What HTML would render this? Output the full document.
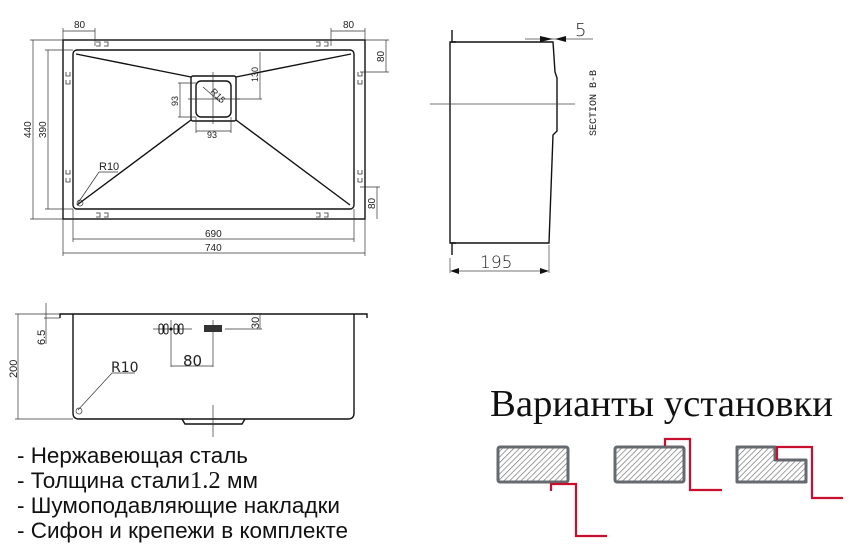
<!DOCTYPE html>
<html><head><meta charset="utf-8"><style>
html,body{margin:0;padding:0;background:#fff;}
svg{display:block;}
</style></head><body>
<svg width="865" height="551" viewBox="0 0 865 551" xmlns="http://www.w3.org/2000/svg" font-family="'Liberation Sans','DejaVu Sans',sans-serif">
<defs>
<pattern id="h" width="4" height="4" patternUnits="userSpaceOnUse" patternTransform="rotate(45)">
<rect width="4" height="4" fill="#fff"/><line x1="0" y1="0" x2="0" y2="4" stroke="#777" stroke-width="1.4"/>
</pattern>
</defs>
<!-- TOP VIEW -->
<g fill="none" stroke="#111" stroke-width="1.4">
<rect x="63" y="40" width="302" height="179"/>
<rect x="73" y="50" width="281" height="159" rx="4"/>
<rect x="191" y="76" width="45" height="45" rx="2"/>
<rect x="196" y="81" width="35" height="36" rx="5"/>
<line x1="76" y1="54" x2="191" y2="77"/>
<line x1="351" y1="54" x2="236" y2="77"/>
<line x1="77" y1="205" x2="191" y2="120"/>
<line x1="350" y1="205" x2="236" y2="120"/>
</g>
<g fill="none" stroke="#333" stroke-width="0.7">
<line x1="33" y1="40" x2="33" y2="219"/><line x1="30" y1="40" x2="63" y2="40"/><line x1="30" y1="219" x2="63" y2="219"/>
<line x1="48" y1="50" x2="48" y2="209"/><line x1="45" y1="50" x2="73" y2="50"/><line x1="45" y1="209" x2="73" y2="209"/>
<line x1="73" y1="239" x2="354" y2="239"/><line x1="73" y1="209" x2="73" y2="242"/><line x1="354" y1="209" x2="354" y2="242"/>
<line x1="63" y1="253" x2="365" y2="253"/><line x1="63" y1="219" x2="63" y2="256"/><line x1="365" y1="219" x2="365" y2="256"/>
<line x1="63" y1="31" x2="95" y2="31"/><line x1="63" y1="28" x2="63" y2="40"/><line x1="95" y1="28" x2="95" y2="46"/>
<line x1="331" y1="31" x2="365" y2="31"/><line x1="331" y1="28" x2="331" y2="46"/><line x1="365" y1="28" x2="365" y2="40"/>
<line x1="386" y1="40" x2="386" y2="72"/><line x1="365" y1="40" x2="389" y2="40"/><line x1="360" y1="72" x2="389" y2="72"/>
<line x1="377" y1="187" x2="377" y2="219"/><line x1="360" y1="187" x2="380" y2="187"/>
<line x1="180" y1="83" x2="180" y2="117"/><line x1="178" y1="83" x2="196" y2="83"/><line x1="178" y1="117" x2="196" y2="117"/>
<line x1="196" y1="131" x2="231" y2="131"/><line x1="196" y1="117" x2="196" y2="133"/><line x1="231" y1="117" x2="231" y2="133"/>
<line x1="260" y1="52" x2="260" y2="99"/><line x1="236" y1="99" x2="262" y2="99"/>
<line x1="188" y1="99" x2="240" y2="99"/><line x1="213" y1="72" x2="213" y2="124"/>
<line x1="203" y1="87" x2="220" y2="102"/>
<line x1="78" y1="203" x2="99" y2="172"/><line x1="99" y1="172" x2="118" y2="172"/>
<circle cx="80" cy="203" r="3"/>
</g>
<g stroke="#333" stroke-width="0.8" fill="none">
<path d="M96 42h4v4h-4M104 42h4v4h-4"/><path d="M316 42h4v4h-4M324 42h4v4h-4"/>
<path d="M96 213h4v4h-4M104 213h4v4h-4"/><path d="M316 213h4v4h-4M324 213h4v4h-4"/>
<path d="M66 72v4h4v-4M66 80v4h4v-4"/><path d="M66 170v4h4v-4M66 178v4h4v-4"/>
<path d="M358 72v4h4v-4M358 80v4h4v-4"/><path d="M358 170v4h4v-4M358 178v4h4v-4"/>
</g>
<g font-family="'Liberation Sans Narrow','Liberation Sans',sans-serif" font-size="10" fill="#222">
<text x="74" y="28">80</text><text x="343" y="28">80</text>
<text x="205" y="237">690</text><text x="205" y="251">740</text>
<text x="207" y="138" font-size="9">93</text>
<text transform="translate(31,138) rotate(-90)">440</text>
<text transform="translate(46,138) rotate(-90)">390</text>
<text transform="translate(384,62) rotate(-90)">80</text>
<text transform="translate(375,209) rotate(-90)">80</text>
<text transform="translate(258,82) rotate(-90)" font-size="9">130</text>
<text transform="translate(178,106) rotate(-90)" font-size="9">93</text>
<text transform="translate(210,92) rotate(45)" font-size="9">R15</text>
<text x="99" y="170" font-size="11">R10</text>
</g>
<!-- SIDE VIEW -->
<g fill="none" stroke="#111" stroke-width="1.4">
<path d="M450 42L553 42L555 72L557 78L557 131L553 135L549 243L450 243Z"/>
<path d="M452 30v12h4M452 255v-12h4"/>
</g>
<g fill="none" stroke="#444" stroke-width="0.7">
<line x1="430" y1="104" x2="575" y2="104"/>
<line x1="525" y1="39" x2="593" y2="39"/>
<line x1="450" y1="258" x2="450" y2="273"/><line x1="549" y1="245" x2="549" y2="273"/>
<line x1="452" y1="271" x2="547" y2="271"/>
</g>
<path d="M540 36L553 39L540 42Z M566 36L555 39L566 42Z M450 271l9-3v6Z M549 271l-9-3v6Z" fill="#111"/>
<text x="575" y="36" font-size="18" fill="#222" font-family="'DejaVu Sans',sans-serif" font-weight="300">5</text>
<text x="480" y="268" font-size="17" fill="#222" font-family="'DejaVu Sans',sans-serif" font-weight="300">195</text>
<text transform="translate(596,136) rotate(-90)" font-size="10" fill="#222" font-family="'Liberation Mono',monospace">SECTION B-B</text>
<!-- FRONT VIEW -->
<g fill="none" stroke="#111" stroke-width="1.4">
<path d="M60 318V314H367V318"/>
<path d="M73 314V413Q73 419 79 419H348Q354 419 354 413V314"/>
<path d="M182 419L185 424H242L245 419"/>
</g>
<g fill="none" stroke="#333" stroke-width="0.7">
<line x1="18" y1="314" x2="18" y2="419"/><line x1="15" y1="314" x2="60" y2="314"/><line x1="15" y1="419" x2="73" y2="419"/>
<line x1="46" y1="303" x2="46" y2="344"/><line x1="44" y1="318" x2="60" y2="318"/>
<line x1="153" y1="329" x2="192" y2="329"/><line x1="171" y1="320" x2="171" y2="367"/>
<line x1="213" y1="320" x2="213" y2="367"/><line x1="171" y1="366" x2="213" y2="366"/>
<line x1="225" y1="329" x2="262" y2="329"/><line x1="260" y1="314" x2="260" y2="329"/>
<line x1="213" y1="405" x2="213" y2="437"/>
<line x1="78" y1="410" x2="112" y2="373"/><line x1="112" y1="373" x2="135" y2="373"/>
<circle cx="79" cy="411" r="3"/>
</g>
<g fill="none" stroke="#111" stroke-width="1">
<rect x="159" y="324" width="4" height="10" rx="2"/><rect x="164" y="324" width="4" height="10" rx="2"/>
<rect x="174" y="324" width="4" height="10" rx="2"/><rect x="179" y="324" width="4" height="10" rx="2"/>
</g>
<rect x="204" y="325" width="18" height="7" fill="#333"/>
<circle cx="171" cy="329" r="1.5" fill="#111"/>
<g fill="#222">
<text x="183" y="366" font-size="15" font-family="'DejaVu Sans',sans-serif">80</text>
<text x="111" y="372" font-size="14" font-family="'DejaVu Sans',sans-serif">R10</text>
<text transform="translate(259,329) rotate(-90)" font-size="11" font-family="'Liberation Sans Narrow','Liberation Sans',sans-serif">30</text>
<text transform="translate(45,345) rotate(-90)" font-size="11" font-family="'Liberation Sans Narrow','Liberation Sans',sans-serif">6.5</text>
<text transform="translate(17,378) rotate(-90)" font-size="11" font-family="'Liberation Sans Narrow','Liberation Sans',sans-serif">200</text>
</g>
<!-- TEXT -->
<g font-size="22" fill="#111" font-family="'Liberation Sans','DejaVu Sans',sans-serif">
<text x="17" y="463" textLength="231" lengthAdjust="spacingAndGlyphs">- Нержавеющая сталь</text>
<text x="17" y="488" textLength="241" lengthAdjust="spacingAndGlyphs">- Толщина стали<tspan font-family="'Liberation Serif',serif" font-size="24">1.2</tspan> мм</text>
<text x="17" y="513" textLength="323" lengthAdjust="spacingAndGlyphs">- Шумоподавляющие накладки</text>
<text x="17" y="538" textLength="331" lengthAdjust="spacingAndGlyphs">- Сифон и крепежи в комплекте</text>
</g>
<text x="490" y="416" font-size="38" fill="#111" font-family="'Liberation Serif',serif" textLength="343" lengthAdjust="spacingAndGlyphs">Варианты установки</text>
<!-- INSTALL ICONS -->
<g stroke="#656a6f" stroke-width="3" fill="url(#h)" stroke-linejoin="round">
<rect x="498" y="447" width="70" height="35" rx="2"/>
<rect x="615" y="447" width="69" height="35" rx="2"/>
<path d="M737 447H775V460H806V482H737Z"/>
</g>
<g stroke="#c8102e" stroke-width="2.2" fill="none">
<path d="M551 491V484H576V536H607"/>
<path d="M665 446V439H690V490H722"/>
<path d="M777 460V447H812V498H843"/>
</g>
</svg>
</body></html>
